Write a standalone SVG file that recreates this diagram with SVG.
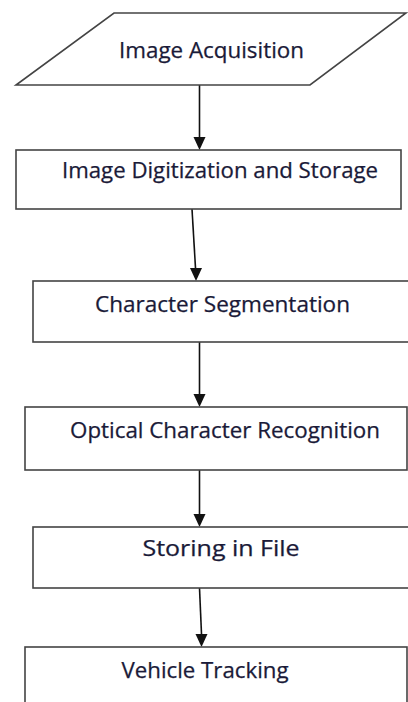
<svg xmlns="http://www.w3.org/2000/svg" width="408" height="702" viewBox="0 0 408 702">
<defs>
<style>
.shape{fill:#fff;stroke:#444;stroke-width:1.6}
.lbl{font-family:"Open Sans","Liberation Sans",sans-serif;font-size:21px;fill:#1a1a38;stroke:#1a1a38;stroke-width:0.25}
.conn{stroke:#111;stroke-width:1.6;fill:none}
.head{fill:#111}
</style>
</defs>
<rect width="408" height="702" fill="#fff"/>
<g id="connectors">
<line class="conn" x1="199.5" y1="85" x2="199.5" y2="137"/>
<path class="head" d="M193.5,137 L205.5,137 L199.5,150 Z"/>
<line class="conn" x1="192" y1="209" x2="195.5" y2="268"/>
<path class="head" d="M190,268 L202,268 L196,281 Z"/>
<line class="conn" x1="199.5" y1="342" x2="199.5" y2="394"/>
<path class="head" d="M193.5,394 L205.5,394 L199.5,407 Z"/>
<line class="conn" x1="199.5" y1="470" x2="199.5" y2="514"/>
<path class="head" d="M193.5,514 L205.5,514 L199.5,527 Z"/>
<line class="conn" x1="199.5" y1="588" x2="201.5" y2="634"/>
<path class="head" d="M195.5,634 L207.5,634 L201.5,647 Z"/>
</g>
<g id="n1">
<polygon class="shape" points="114,13 406,13 310,85 16,85"/>
<text class="lbl" x="119" y="57.5" textLength="185" lengthAdjust="spacingAndGlyphs">Image Acquisition</text>
</g>
<g id="n2">
<rect class="shape" x="16" y="150" width="385" height="59"/>
<text class="lbl" x="62" y="178" textLength="316" lengthAdjust="spacingAndGlyphs">Image Digitization and Storage</text>
</g>
<g id="n3">
<rect class="shape" x="33" y="281" width="380" height="61"/>
<text class="lbl" x="95" y="311.5" textLength="255" lengthAdjust="spacingAndGlyphs">Character Segmentation</text>
</g>
<g id="n4">
<rect class="shape" x="25" y="407" width="382" height="63"/>
<text class="lbl" x="70" y="438" textLength="310" lengthAdjust="spacingAndGlyphs">Optical Character Recognition</text>
</g>
<g id="n5">
<rect class="shape" x="33" y="527" width="380" height="61"/>
<text class="lbl" x="142.5" y="556" textLength="157" lengthAdjust="spacingAndGlyphs">Storing in File</text>
</g>
<g id="n6">
<rect class="shape" x="25" y="647" width="382" height="70"/>
<text class="lbl" x="121.5" y="678" textLength="167" lengthAdjust="spacingAndGlyphs">Vehicle Tracking</text>
</g>
</svg>
